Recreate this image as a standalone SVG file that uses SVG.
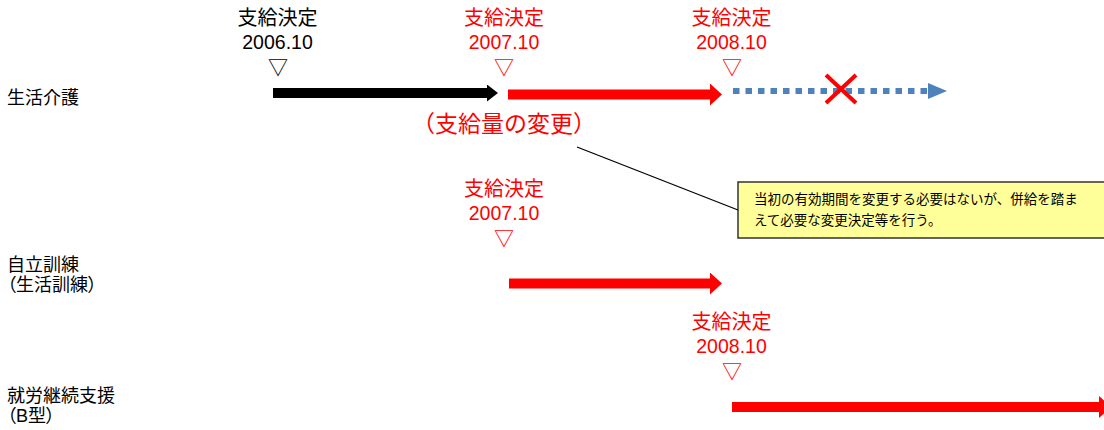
<svg xmlns="http://www.w3.org/2000/svg" width="1104" height="430" viewBox="0 0 1104 430">
<style>
text{font-family:"Liberation Sans","Noto Sans CJK JP","Noto Sans CJK SC",sans-serif;}
.row{font-size:18px;fill:#000;}
.palt{font-feature-settings:"palt";}
.ms{font-size:20px;text-anchor:middle;}
.dt{font-size:19.5px;}
.blk{fill:#000;}
.red{fill:#FF0000;}
.note{font-size:13.5px;fill:#000;}
.shaft{fill:none;stroke-width:10;}
</style>
<defs>
<marker id="hBlack" markerUnits="userSpaceOnUse" viewBox="0 0 11 17" markerWidth="11" markerHeight="17" refX="0" refY="8.5" orient="auto"><path d="M0,0 L11,8.5 L0,17 z" fill="#000"/></marker>
<marker id="hRed" markerUnits="userSpaceOnUse" viewBox="0 0 12 22" markerWidth="12" markerHeight="22" refX="0" refY="11" orient="auto"><path d="M0,0 L12,11 L0,22 z" fill="#FF0000"/></marker>
<marker id="hBlue" markerUnits="userSpaceOnUse" viewBox="0 0 19 16" markerWidth="19" markerHeight="16" refX="0" refY="8" orient="auto"><path d="M0,0 L19,8 L0,16 z" fill="#4F81BD"/></marker>
</defs>
<rect width="1104" height="430" fill="#fff"/>

<g id="row-seikatsu-kaigo"><text class="row" x="7" y="104">生活介護</text></g>
<g id="row-jiritsu-kunren"><text class="row"><tspan x="7" y="270.8">自立訓練</tspan><tspan class="palt" x="7" y="291.2">（生活訓練）</tspan></text></g>
<g id="row-shuro-keizoku"><text class="row"><tspan x="7" y="401.8">就労継続支援</tspan><tspan class="palt" x="7" y="422.2">（B型）</tspan></text></g>

<g id="ms-2006"><text class="ms blk"><tspan x="277.5" y="25">支給決定</tspan><tspan class="dt" x="277.5" y="49">2006.10</tspan><tspan x="278" y="75">▽</tspan></text></g>
<g id="ms-2007-a"><text class="ms red"><tspan x="504" y="25">支給決定</tspan><tspan class="dt" x="504" y="49">2007.10</tspan><tspan x="504" y="75">▽</tspan></text></g>
<g id="ms-2008-a"><text class="ms red"><tspan x="731.5" y="25">支給決定</tspan><tspan class="dt" x="731.5" y="49">2008.10</tspan><tspan x="732" y="75">▽</tspan></text></g>
<g id="ms-2007-b"><text class="ms red"><tspan x="504" y="196">支給決定</tspan><tspan class="dt" x="504" y="220">2007.10</tspan><tspan x="504" y="246">▽</tspan></text></g>
<g id="ms-2008-b"><text class="ms red"><tspan x="731.5" y="329">支給決定</tspan><tspan class="dt" x="731.5" y="353">2008.10</tspan><tspan x="732" y="379">▽</tspan></text></g>

<g id="change-label"><text class="red" x="504" y="131.5" font-size="23" text-anchor="middle">（支給量の変更）</text></g>

<g id="callout"><rect x="738" y="182" width="380" height="56" fill="#FFFF99" stroke="#333" stroke-width="1.5"/><text class="note"><tspan x="754" y="204">当初の有効期間を変更する必要はないが、併給を踏ま</tspan><tspan x="754" y="225">えて必要な変更決定等を行う。</tspan></text></g>

<g id="connectors">
<line class="shaft" x1="273" y1="93" x2="487" y2="93" stroke="#000" marker-end="url(#hBlack)"/>
<line class="shaft" x1="508" y1="94.5" x2="710" y2="94.5" stroke="#FF0000" marker-end="url(#hRed)"/>
<line x1="733" y1="91" x2="928" y2="91" stroke="#4F81BD" stroke-width="6" stroke-dasharray="6.5 6" marker-end="url(#hBlue)"/>
<line class="shaft" x1="509" y1="283.5" x2="710" y2="283.5" stroke="#FF0000" marker-end="url(#hRed)"/>
<line class="shaft" x1="732" y1="407" x2="1099" y2="407" stroke="#FF0000" marker-end="url(#hRed)"/>
<line x1="577" y1="147" x2="738" y2="210" stroke="#000" stroke-width="1.3"/>
</g>

<g id="cross"><line x1="826" y1="75" x2="856" y2="103" stroke="#FF0000" stroke-width="4"/><line x1="826" y1="103" x2="856" y2="75" stroke="#FF0000" stroke-width="4"/></g>
</svg>
